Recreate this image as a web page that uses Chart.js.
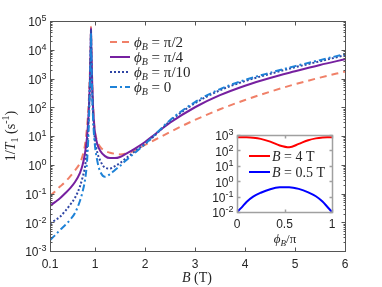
<!doctype html>
<html lang="en">
<head>
<meta charset="utf-8">
<title>Relaxation rate vs magnetic field</title>
<script src="https://cdn.jsdelivr.net/npm/chart.js@4.4.0/dist/chart.umd.min.js"></script>
<style>
    body { margin: 0; background: #fff; }
    #wrap { position: relative; width: 382px; height: 287px; }
    #inset { position: absolute; left: 195px; top: 125px; }
</style>
</head>
<body>
<div id="wrap">
    <canvas id="main" width="382" height="287"></canvas>
    <canvas id="inset" width="150" height="125"></canvas>
</div>
<script>
    // field values B (T)
    const fieldB = [0.1, 0.2, 0.3, 0.4, 0.5, 0.6, 0.7, 0.75, 0.8, 0.84, 0.87, 0.89, 0.905, 0.915, 0.92, 0.925,
        0.935, 0.95, 0.97, 1.0, 1.05, 1.1, 1.2, 1.3, 1.4, 1.5, 1.6, 1.8, 2.0, 2.2, 2.5, 3.0, 3.5, 4.0, 4.5, 5.0, 5.5, 6.0];
    // 1/T1 (s^-1) for each angle
    const rateHalfPi = [0.081, 0.117, 0.174, 0.251, 0.389, 0.631, 1.15, 2.0, 4.9, 20, 100, 631, 3981, 19953, 63096, 19953,
        3162, 398, 63, 14.1, 6.3, 4.27, 3.02, 2.63, 2.4, 2.29, 2.4, 3.16, 4.9, 7.4, 13.8, 36.3, 85, 178, 347, 631, 1072, 1738];
    const rateQuarterPi = [0.037, 0.05, 0.068, 0.1, 0.151, 0.251, 0.525, 0.955, 2.51, 8.9, 50, 316, 2512, 15849, 56234, 15849,
        2512, 316, 50, 12.6, 5.0, 3.16, 2.0, 1.7, 1.7, 1.86, 2.29, 3.63, 6.17, 11.5, 28.8, 100, 263, 562, 1047, 1778, 2951, 4677];
    const rateTenthPi = [0.0091, 0.0117, 0.0155, 0.024, 0.04, 0.071, 0.178, 0.355, 0.85, 4.0, 31.6, 251, 1995, 12589, 50119, 12589,
        1585, 200, 31.6, 7.2, 2.51, 1.45, 0.79, 0.74, 0.89, 1.15, 1.58, 2.95, 5.25, 10.7, 33.1, 138, 389, 813, 1445, 2455, 3981, 6457];
    const rateZero = [0.0024, 0.0035, 0.0054, 0.0079, 0.012, 0.021, 0.056, 0.112, 0.295, 1.26, 12.6, 158, 1585, 10000, 39811, 10000,
        1259, 126, 20, 4.47, 1.26, 0.6, 0.38, 0.47, 0.66, 0.91, 1.32, 2.63, 5.25, 11.2, 35.5, 151, 427, 891, 1585, 2692, 4365, 7079];
    const angleLabels = ['π/2', 'π/4', 'π/10', '0'];

    // inset: angle phi_B / pi
    const anglePhi = [0, 0.05, 0.1, 0.17, 0.25, 0.35, 0.45, 0.55, 0.65, 0.75, 0.83, 0.9, 0.95, 1];
    const rate4T = [725, 725, 708, 661, 562, 372, 209, 158, 263, 457, 603, 692, 725, 725];
    const rate05T = [0.01, 0.02, 0.045, 0.1, 0.178, 0.302, 0.398, 0.407, 0.316, 0.19, 0.105, 0.048, 0.022, 0.01];
    const insetLabels = ['4', '0.5'];

    // ticks
    const mainXTicks = [0.1, 1, 2, 3, 4, 5, 6];
    const mainYExp = [-3, -2, -1, 0, 1, 2, 3, 4, 5];
    const insetXTicks = [0, 0.5, 1];
    const insetYExp = [-2, -1, 0, 1, 2, 3];

    const SANS = '"Liberation Sans", Arial, sans-serif';
    const SERIF = '"Liberation Serif", "DejaVu Serif", serif';
    const TEXT = '#262626';

    function toPoints(xs, ys) {
        return xs.map((v, i) => ({x: v, y: ys[i]}));
    }

    function drawRich(ctx, parts, x, y, align) {
        let w = 0;
        parts.forEach(p => { ctx.font = p.f; w += ctx.measureText(p.t).width; });
        let cx = align === 'right' ? x - w : (align === 'center' ? x - w / 2 : x);
        ctx.textAlign = 'left';
        ctx.textBaseline = 'alphabetic';
        parts.forEach(p => {
            ctx.font = p.f;
            ctx.fillText(p.t, cx, y + (p.dy || 0));
            cx += ctx.measureText(p.t).width;
        });
    }

    function powerParts(e, size) {
        return [{t: '10', f: size + 'px ' + SANS},
            {t: String(e), f: Math.round(size * 0.72) + 'px ' + SANS, dy: -Math.round(size * 0.45)}];
    }

    // box, inward ticks and tick labels
    function drawFrame(chart, o) {
        const ctx = chart.ctx, a = chart.chartArea;
        const xs = chart.scales.x, ys = chart.scales.y;
        const L = a.left + 0.5, R = a.right + 0.5, T = a.top + 0.5, B = a.bottom + 0.5;
        ctx.save();
        ctx.strokeStyle = o.color;
        ctx.lineWidth = o.lw;
        ctx.beginPath();
        o.xTicks.forEach(v => {
            const px = Math.round(xs.getPixelForValue(v)) + 0.5;
            ctx.moveTo(px, B); ctx.lineTo(px, B - o.tick);
            ctx.moveTo(px, T); ctx.lineTo(px, T + o.tick);
        });
        o.yExp.forEach((e, k) => {
            const py = Math.round(ys.getPixelForValue(Math.pow(10, e))) + 0.5;
            ctx.moveTo(L, py); ctx.lineTo(L + o.tick, py);
            ctx.moveTo(R, py); ctx.lineTo(R - o.tick, py);
            if (o.minor && k < o.yExp.length - 1) {
                for (let m = 2; m <= 9; m++) {
                    const pm = Math.round(ys.getPixelForValue(m * Math.pow(10, e))) + 0.5;
                    ctx.moveTo(L, pm); ctx.lineTo(L + o.minor, pm);
                    ctx.moveTo(R, pm); ctx.lineTo(R - o.minor, pm);
                }
            }
        });
        ctx.stroke();
        ctx.strokeRect(L, T, R - L, B - T);

        ctx.fillStyle = TEXT;
        ctx.font = o.font + 'px ' + SANS;
        ctx.textAlign = 'center';
        ctx.textBaseline = 'top';
        o.xTicks.forEach((v, i) => {
            ctx.fillText(o.xText[i], xs.getPixelForValue(v), B + o.xGap);
        });
        o.yExp.forEach(e => {
            const py = ys.getPixelForValue(Math.pow(10, e));
            drawRich(ctx, powerParts(e, o.font), L - 4, py + o.font * 0.45, 'right');
        });
        ctx.restore();
    }

    const mainChart = new Chart(document.getElementById('main'), {
        type: 'line',
        data: {
            datasets: [
                {data: toPoints(fieldB, rateHalfPi), borderColor: 'rgb(240,128,104)', borderWidth: 2,
                    borderDash: [7, 5], order: 4},
                {data: toPoints(fieldB, rateQuarterPi), borderColor: 'rgb(118,32,160)', borderWidth: 2, order: 3},
                {data: toPoints(fieldB, rateTenthPi), borderColor: 'rgb(48,70,165)', borderWidth: 2,
                    borderDash: [2, 2], order: 2},
                {data: toPoints(fieldB, rateZero), borderColor: 'rgb(30,130,215)', borderWidth: 2,
                    borderDash: [7, 3, 2, 3], order: 1}
            ]
        },
        options: {
            responsive: false,
            animation: false,
            devicePixelRatio: 1,
            layout: {padding: {left: 50, top: 21, right: 37, bottom: 36}},
            elements: {point: {radius: 0}, line: {cubicInterpolationMode: 'monotone'}},
            plugins: {legend: {display: false}, tooltip: {enabled: false}},
            scales: {
                x: {type: 'linear', min: 0.1, max: 6, display: false},
                y: {type: 'logarithmic', min: 1e-3, max: 1e5, display: false}
            }
        },
        plugins: [{
            id: 'mainFrame',
            afterDraw(chart) {
                drawFrame(chart, {color: '#555', lw: 1, tick: 4, minor: 2, font: 12, xGap: 7,
                    xTicks: mainXTicks, xText: mainXTicks.map(String), yExp: mainYExp});
                const ctx = chart.ctx;
                ctx.save();
                ctx.fillStyle = TEXT;
                // legend
                chart.data.datasets.forEach((ds, i) => {
                    const y = 42 + i * 15;
                    ctx.strokeStyle = ds.borderColor;
                    ctx.lineWidth = ds.borderWidth;
                    ctx.setLineDash(ds.borderDash || []);
                    ctx.beginPath();
                    ctx.moveTo(110, y); ctx.lineTo(130, y);
                    ctx.stroke();
                    ctx.setLineDash([]);
                    drawRich(ctx, [
                        {t: 'ϕ', f: 'italic 15px ' + SERIF},
                        {t: 'B', f: 'italic 10px ' + SERIF, dy: 3},
                        {t: ' = ', f: '15px ' + SERIF},
                        {t: angleLabels[i], f: '15px ' + SERIF}
                    ], 134, y + 5, 'left');
                });
                // axis titles
                drawRich(ctx, [{t: 'B', f: 'italic 14px ' + SERIF}, {t: ' (T)', f: '14px ' + SERIF}],
                    197, 282, 'center');
                ctx.translate(15, 136);
                ctx.rotate(-Math.PI / 2);
                drawRich(ctx, [
                    {t: '1/', f: '14px ' + SERIF},
                    {t: 'T', f: 'italic 14px ' + SERIF},
                    {t: '1', f: '10px ' + SERIF, dy: 3},
                    {t: ' (s', f: '14px ' + SERIF},
                    {t: '-1', f: '10px ' + SERIF, dy: -6},
                    {t: ')', f: '14px ' + SERIF}
                ], 0, 0, 'center');
                ctx.restore();
            }
        }]
    });

    const insetChart = new Chart(document.getElementById('inset'), {
        type: 'line',
        data: {
            datasets: [
                {data: toPoints(anglePhi, rate4T), borderColor: '#ff0000', borderWidth: 2},
                {data: toPoints(anglePhi, rate05T), borderColor: '#0000ff', borderWidth: 2}
            ]
        },
        options: {
            responsive: false,
            animation: false,
            devicePixelRatio: 1,
            layout: {padding: {left: 42, top: 10, right: 13, bottom: 38}},
            elements: {point: {radius: 0}, line: {cubicInterpolationMode: 'monotone'}},
            plugins: {legend: {display: false}, tooltip: {enabled: false}},
            scales: {
                x: {type: 'linear', min: 0, max: 1, display: false},
                y: {type: 'logarithmic', min: 1e-2, max: 1e3, display: false}
            }
        },
        plugins: [{
            id: 'insetFrame',
            beforeDraw(chart) {
                const a = chart.chartArea, ctx = chart.ctx;
                ctx.save();
                ctx.fillStyle = '#fff';
                ctx.fillRect(a.left, a.top, a.right - a.left, a.bottom - a.top);
                ctx.restore();
            },
            afterDraw(chart) {
                drawFrame(chart, {color: '#a0a0a0', lw: 1.5, tick: 3, minor: 0, font: 12, xGap: 6,
                    xTicks: insetXTicks, xText: insetXTicks.map(String), yExp: insetYExp});
                const ctx = chart.ctx;
                ctx.save();
                ctx.fillStyle = TEXT;
                chart.data.datasets.forEach((ds, i) => {
                    const y = 31 + i * 16;
                    ctx.strokeStyle = ds.borderColor;
                    ctx.lineWidth = ds.borderWidth;
                    ctx.beginPath();
                    ctx.moveTo(54, y); ctx.lineTo(75, y);
                    ctx.stroke();
                    drawRich(ctx, [
                        {t: 'B', f: 'italic 14px ' + SERIF},
                        {t: ' = ' + insetLabels[i] + ' T', f: '14px ' + SERIF}
                    ], 77, y + 5, 'left');
                });
                drawRich(ctx, [
                    {t: 'ϕ', f: 'italic 13px ' + SERIF},
                    {t: 'B', f: 'italic 9px ' + SERIF, dy: 3},
                    {t: '/π', f: '13px ' + SERIF}
                ], 90, 118, 'center');
                ctx.restore();
            }
        }]
    });
</script>
</body>
</html>
